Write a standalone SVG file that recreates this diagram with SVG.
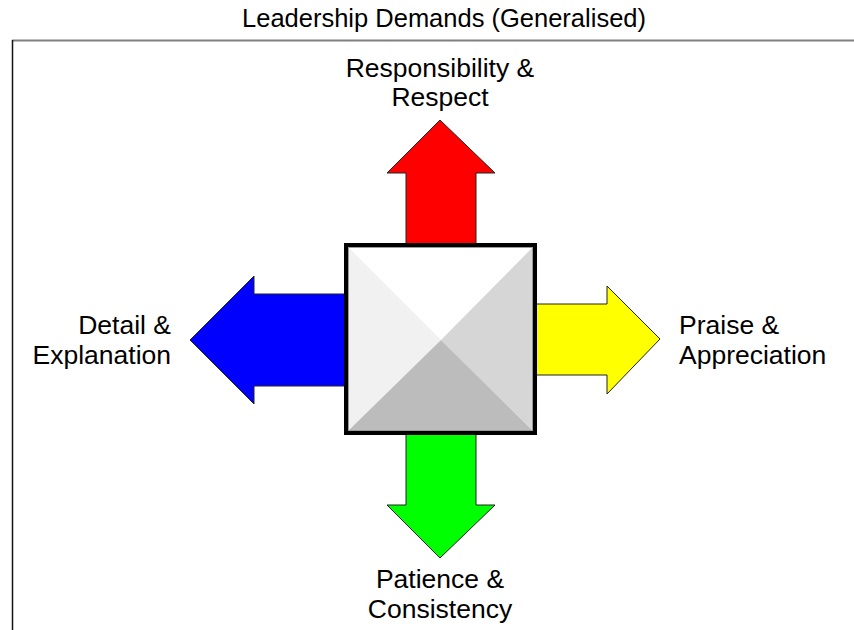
<svg xmlns="http://www.w3.org/2000/svg" width="854" height="630" viewBox="0 0 854 630">
  <style>
    .lbl { font-family: "Liberation Sans", Arial, sans-serif; font-size: 26.5px; fill: #000; }
    .title { font-family: "Liberation Sans", Arial, sans-serif; font-size: 25.5px; fill: #000; }
    .arrow { stroke: #222; stroke-width: 1; stroke-linejoin: miter; }
  </style>
  <rect width="854" height="630" fill="#fff"/>

  <!-- title and frame -->
  <text class="title" x="444" y="27" text-anchor="middle">Leadership Demands (Generalised)</text>
  <line x1="12" y1="40.5" x2="854" y2="40.5" stroke="#808080" stroke-width="2"/>
  <line x1="12.5" y1="40" x2="12.5" y2="630" stroke="#111" stroke-width="1.5"/>

  <!-- connectors: the four arrows -->
  <g id="connectors">
    <polygon id="arrow-up" class="arrow" fill="#ff0000" points="406,244 406,173 387,173 440,120 495,173 476,173 476,244"/>
    <polygon id="arrow-left" class="arrow" fill="#0000ff" points="345,294 254,294 254,276 190,340 254,404 254,386 345,386"/>
    <polygon id="arrow-right" class="arrow" fill="#ffff00" points="536,304 607,304 607,286 660,339 607,394 607,375 536,375"/>
    <polygon id="arrow-down" class="arrow" fill="#00ff00" points="406,434 406,505 387,505 440,558 495,505 476,505 476,434"/>
  </g>

  <!-- central pyramid block -->
  <g id="hub">
    <polygon points="348,247 533,247 441,340" fill="#ffffff"/>
    <polygon points="348,247 441,340 348,431" fill="#f1f1f1"/>
    <polygon points="533,247 533,431 441,340" fill="#d6d6d6"/>
    <polygon points="348,431 441,340 533,431" fill="#bcbcbc"/>
    <rect x="348.5" y="247.5" width="184" height="183" fill="none" stroke="#9a9a9a" stroke-width="1"/>
    <rect x="346" y="245" width="189" height="188" fill="none" stroke="#000" stroke-width="4"/>
  </g>

  <!-- labels -->
  <g id="label-top">
    <text class="lbl" x="440" y="77" text-anchor="middle">Responsibility &amp;</text>
    <text class="lbl" x="440" y="106" text-anchor="middle">Respect</text>
  </g>
  <g id="label-left">
    <text class="lbl" x="171" y="334" text-anchor="end">Detail &amp;</text>
    <text class="lbl" x="171" y="364" text-anchor="end">Explanation</text>
  </g>
  <g id="label-right">
    <text class="lbl" x="679" y="334">Praise &amp;</text>
    <text class="lbl" x="679" y="364">Appreciation</text>
  </g>
  <g id="label-bottom">
    <text class="lbl" x="440" y="588" text-anchor="middle">Patience &amp;</text>
    <text class="lbl" x="440" y="618" text-anchor="middle">Consistency</text>
  </g>
</svg>
